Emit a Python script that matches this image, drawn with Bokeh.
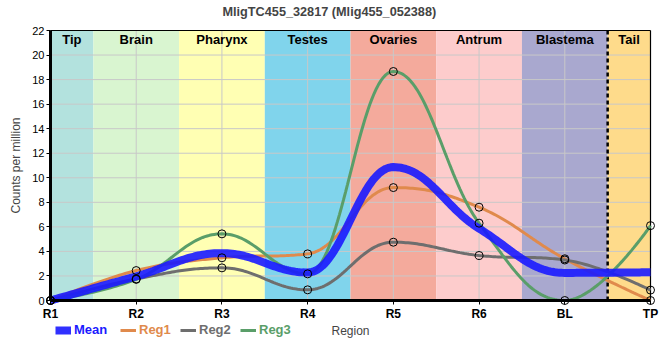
import numpy as np
from bokeh.plotting import figure
from bokeh.models import Range1d, FixedTicker, Legend, LegendItem, ColumnDataSource
from bokeh.core.properties import value
from bokeh.embed import file_html
from bokeh.resources import INLINE

# ---------------- data ----------------
categories = ["R1", "R2", "R3", "R4", "R5", "R6", "BL", "TP"]
region_names = ["Tip", "Brain", "Pharynx", "Testes", "Ovaries", "Antrum", "Blastema", "Tail"]
region_colors = ["#b3e2de", "#d9f5d0", "#ffffb3", "#80d4ec", "#f4aa9c", "#fdcccc", "#a9a8cf", "#fedb8b"]
mean_vals = [0.0, 1.97, 3.86, 2.28, 10.87, 5.86, 2.25, 2.30]
reg1_vals = [0.0, 2.44, 3.48, 3.80, 9.20, 7.60, 3.40, 0.0]
reg2_vals = [0.0, 1.76, 2.66, 0.87, 4.75, 3.67, 3.30, 0.85]
reg3_vals = [0.0, 1.72, 5.43, 2.17, 18.66, 6.30, 0.0, 6.10]
series_names = ["Reg1", "Reg2", "Reg3"]
series_colors = ["#e08a4c", "#6e6e6e", "#5a9e69"]
mean_color = "#1a1aff"
y_ticks = list(range(0, 23, 2))
Y_MAX = 22
FONT = "Liberation Sans"


def spline_path(xs, ys, n=40):
    """Smooth rendering path (spline with control points, no false extremes)."""
    xs = [float(v) for v in xs]
    ys = [float(v) for v in ys]
    m = len(xs)
    lc = [None] * m
    rc = [None] * m
    for i in range(1, m - 1):
        lx, ly, nx, ny, px, py = xs[i - 1], ys[i - 1], xs[i + 1], ys[i + 1], xs[i], ys[i]
        lcx, lcy = (1.5 * px + lx) / 2.5, (1.5 * py + ly) / 2.5
        rcx, rcy = (1.5 * px + nx) / 2.5, (1.5 * py + ny) / 2.5
        corr = (rcy - lcy) * (rcx - px) / (rcx - lcx) + py - rcy
        lcy += corr
        rcy += corr
        if lcy > ly and lcy > py:
            lcy = max(ly, py); rcy = 2 * py - lcy
        elif lcy < ly and lcy < py:
            lcy = min(ly, py); rcy = 2 * py - lcy
        if rcy > ny and rcy > py:
            rcy = max(ny, py); lcy = 2 * py - rcy
        elif rcy < ny and rcy < py:
            rcy = min(ny, py); lcy = 2 * py - rcy
        lc[i] = (lcx, lcy)
        rc[i] = (rcx, rcy)
    outx, outy = [], []
    u = np.linspace(0, 1, n)
    for i in range(m - 1):
        P0 = (xs[i], ys[i])
        P1 = rc[i] if rc[i] is not None else P0
        P3 = (xs[i + 1], ys[i + 1])
        P2 = lc[i + 1] if lc[i + 1] is not None else P3
        bx = (1 - u) ** 3 * P0[0] + 3 * (1 - u) ** 2 * u * P1[0] + 3 * (1 - u) * u ** 2 * P2[0] + u ** 3 * P3[0]
        by = (1 - u) ** 3 * P0[1] + 3 * (1 - u) ** 2 * u * P1[1] + 3 * (1 - u) * u ** 2 * P2[1] + u ** 3 * P3[1]
        s = 0 if i == 0 else 1
        outx.extend(bx[s:])
        outy.extend(by[s:])
    return outx, outy


xidx = list(range(len(categories)))
xmax = len(categories) - 1

# page geometry: data x 0..xmax -> px 50..650 ; data y 0..22 -> px 300..30
PX_X = 600 / xmax
PX_Y = 270 / Y_MAX
FRAME_W, FRAME_TOP, FRAME_BOTTOM = 660, 20, 350
x_lo, x_hi = -50 / PX_X, xmax + (FRAME_W - 650) / PX_X
y_hi, y_lo = Y_MAX + (30 - FRAME_TOP) / PX_Y, -(FRAME_BOTTOM - 300) / PX_Y

p = figure(frame_width=FRAME_W, frame_height=FRAME_BOTTOM - FRAME_TOP,
           x_range=Range1d(x_lo, x_hi), y_range=Range1d(y_lo, y_hi),
           output_backend="svg", toolbar_location=None,
           min_border_left=0, min_border_right=0, min_border_top=FRAME_TOP, min_border_bottom=5)
p.border_fill_color = "white"
p.background_fill_color = "white"
p.outline_line_color = None
p.xgrid.visible = False
p.ygrid.visible = False

# title
p.title.text = "MligTC455_32817 (Mlig455_052388)"
p.title.text_font = FONT
p.title.text_font_size = "12.7px"
p.title.text_font_style = "bold"
p.title.align = "left"
p.title.offset = 222
p.title.standoff = 4

# region bands
b_left = [max(i - 0.5, 0) for i in xidx]
b_right = [min(i + 0.5, xmax) for i in xidx]
band_src = ColumnDataSource(dict(left=b_left, right=b_right, color=region_colors,
                                 name=region_names,
                                 cx=[(a + b) / 2 for a, b in zip(b_left, b_right)]))
p.quad(left="left", right="right", bottom=0, top=Y_MAX, fill_color="color", line_color=None,
       source=band_src, level="image")

# grid lines over the data area only
p.segment(x0=xidx[1:-1], y0=0, x1=xidx[1:-1], y1=Y_MAX, line_color="#c8c8c8", line_width=1,
          level="underlay")
p.segment(x0=0, y0=y_ticks[1:-1], x1=xmax, y1=y_ticks[1:-1], line_color="#c8c8c8", line_width=1,
          level="underlay")

p.text(x="cx", y=Y_MAX - 0.7, text="name", source=band_src, text_align="center",
       text_baseline="middle", text_font=value(FONT), text_font_size="13px",
       text_font_style="bold", text_color="black")

# blastema / tail boundary
p.segment(x0=[b_right[-2]], y0=[0], x1=[b_right[-2]], y1=[Y_MAX], line_color="black",
          line_width=2.5, line_dash="4 3")

# frame box (top and right edge)
p.segment(x0=[0, xmax], y0=[Y_MAX, 0], x1=[xmax, xmax], y1=[Y_MAX, Y_MAX],
          line_color="black", line_width=1.2)

# lines
renderers = {}
for name, vals, col in zip(series_names, [reg1_vals, reg2_vals, reg3_vals], series_colors):
    cx, cy = spline_path(xidx, vals)
    renderers[name] = p.line(cx, cy, line_color=col, line_width=3)
mx, my = spline_path(xidx, mean_vals)
renderers["Mean"] = p.line(mx, my, line_color=mean_color, line_width=8, line_alpha=0.9)
for vals in [reg1_vals, reg2_vals, reg3_vals]:
    p.scatter(xidx, vals, size=8, fill_color=None, line_color="black", line_width=1)

# axes (placed at the data origin)
p.xaxis.fixed_location = 0
p.xaxis.bounds = (0, xmax)
p.xaxis.ticker = FixedTicker(ticks=xidx)
p.xaxis.major_label_overrides = {i: c for i, c in zip(xidx, categories)}
p.xaxis.major_label_text_font = FONT
p.xaxis.major_label_text_font_style = "bold"
p.xaxis.major_label_text_font_size = "12px"
p.xaxis.major_label_text_color = "black"
p.xaxis.axis_label = "Region"
p.xaxis.axis_label_text_font = FONT
p.xaxis.axis_label_text_font_style = "normal"
p.xaxis.axis_label_text_font_size = "12px"
p.xaxis.axis_label_standoff = 0
p.xaxis.major_label_standoff = 2

p.yaxis.fixed_location = 0
p.yaxis.bounds = (0, Y_MAX)
p.yaxis.ticker = FixedTicker(ticks=y_ticks)
p.yaxis.major_label_text_font = FONT
p.yaxis.major_label_text_font_size = "11px"
p.yaxis.major_label_text_color = "black"
p.yaxis.axis_label = "Counts per million"
p.yaxis.axis_label_text_font = FONT
p.yaxis.axis_label_text_font_style = "normal"
p.yaxis.axis_label_text_font_size = "12px"
p.yaxis.axis_label_standoff = 6
p.yaxis.major_label_standoff = 2

for ax in (p.xaxis, p.yaxis):
    ax.axis_line_width = 3
    ax.axis_line_color = "black"
    ax.major_tick_line_color = "black"
    ax.major_tick_out = 4
    ax.major_tick_in = 0
    ax.minor_tick_line_color = None

# legends (one per item so each label gets its own colour)
legend_x = [55, 120, 180, 240]
for lx, name, col in zip(legend_x, ["Mean"] + series_names, [mean_color] + series_colors):
    leg = Legend(items=[LegendItem(label=name, renderers=[renderers[name]])],
                 location=(lx, 13), orientation="horizontal",
                 padding=0, margin=0, border_line_color=None, background_fill_alpha=0,
                 glyph_width=16, glyph_height=12, label_standoff=3, label_height=14,
                 label_text_font=FONT, label_text_font_size="13px",
                 label_text_font_style="bold", label_text_color=col)
    p.add_layout(leg)

open("out.html", "w").write(file_html(p, INLINE))
